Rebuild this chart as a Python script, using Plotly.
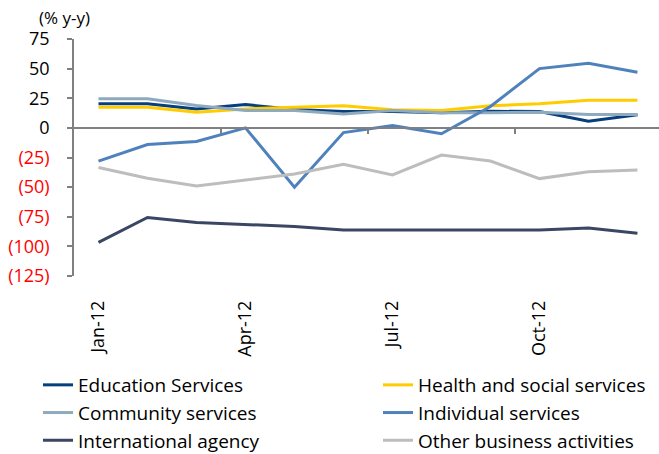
import plotly.graph_objects as go

months = ["Jan-12", "Feb-12", "Mar-12", "Apr-12", "May-12", "Jun-12",
          "Jul-12", "Aug-12", "Sep-12", "Oct-12", "Nov-12", "Dec-12"]
label_months = ["Jan-12", "Apr-12", "Jul-12", "Oct-12"]

education = [20.3, 20.3, 16, 19.7, 15.5, 13.8, 13.8, 12.7, 14, 13.8, 5.6, 11]
health = [17.4, 17.4, 13.2, 16, 17.4, 18.6, 15.2, 14.6, 18.6, 20.3, 23.3, 23.3]
community = [24.5, 24.5, 18.9, 14.6, 14.6, 11.8, 14.6, 12.7, 12.7, 13.2, 11.2, 11.2]
individual = [-28, -14, -11.5, 0, -50, -4, 2, -5, 18, 50, 54.6, 47]
international = [-96.7, -75.6, -79.8, -81.2, -83.2, -86.2, -86.2, -86.2, -86.2, -86.2, -84.5, -89]
other = [-33.5, -42.5, -49, -44, -39, -30.7, -39.7, -23, -28, -42.8, -37, -35.5]

# (name, values, colour, legend column)
series = [
    ("Education Services", education, "#063F7C", "legend"),
    ("Health and social services", health, "#FFCC00", "legend2"),
    ("Community services", community, "#8FA9BF", "legend"),
    ("Individual services", individual, "#4F81BD", "legend2"),
    ("International agency", international, "#3A4664", "legend"),
    ("Other business activities", other, "#BDBDBD", "legend2"),
]

y_ticks = [75, 50, 25, 0, -25, -50, -75, -100, -125]
y_text = [str(v) if v >= 0 else '<span style="color:#FF0000">(%d)</span>' % (-v) for v in y_ticks]

FONT = "Open Sans"
W, H = 659, 454
L, R, T, B = 74, 0, 39, 178
PW, PH = W - L - R, H - T - B
idx = list(range(len(months)))

fig = go.Figure()
for name, vals, col, lg in series:
    fig.add_trace(go.Scatter(x=idx, y=vals, name=name, mode="lines",
                             line=dict(color=col, width=3), legend=lg,
                             hoverinfo="skip"))
# invisible helper trace for the axis drawn at y = 0
fig.add_trace(go.Scatter(x=idx, y=education, xaxis="x2", mode="lines",
                         line=dict(width=0), opacity=0, showlegend=False,
                         hoverinfo="skip"))

xr = [-0.5, 11.44]
legend_common = dict(orientation="v", xref="container", yref="container",
                     xanchor="left", yanchor="top", font=dict(size=19),
                     tracegroupgap=0, bgcolor="rgba(0,0,0,0)")
fig.update_layout(
    width=W, height=H,
    margin=dict(l=L, r=R, t=T, b=B, autoexpand=False),
    paper_bgcolor="white", plot_bgcolor="white",
    font=dict(family=FONT, size=18, color="#000000"),
    showlegend=True,
    xaxis=dict(range=xr, tickmode="array",
               tickvals=[months.index(m) for m in label_months],
               ticktext=label_months, tickangle=-90, ticks="",
               showline=False, showgrid=False, zeroline=False,
               ticklabelstandoff=20, tickfont=dict(size=18)),
    xaxis2=dict(range=xr, overlaying="x", anchor="free", position=0.625,
                tickmode="array", tickvals=[2.5, 5.5, 8.5], ticks="outside",
                ticklen=5, tickwidth=1.5, tickcolor="#808080",
                showticklabels=False, showline=True, linecolor="#808080",
                linewidth=1.5, showgrid=False, zeroline=False),
    yaxis=dict(range=[-125, 75], tickmode="array", tickvals=y_ticks,
               ticktext=y_text, ticks="outside", ticklen=5, tickwidth=1.5,
               tickcolor="#808080", showline=True, linecolor="#808080",
               linewidth=1.5, showgrid=False, zeroline=False,
               ticklabelstandoff=14, tickfont=dict(size=18)),
    legend=dict(x=38/W, y=1-366/H, **legend_common),
    legend2=dict(x=378/W, y=1-366/H, **legend_common),
    annotations=[dict(text="(% y-y)", xref="paper", yref="paper",
                      x=(37-L)/PW, y=1+(T-18)/PH, xanchor="left", yanchor="middle",
                      showarrow=False, font=dict(size=17))],
)

fig.write_html("out.html", config={"displayModeBar": False},
               post_script="document.body.style.margin='0';")
